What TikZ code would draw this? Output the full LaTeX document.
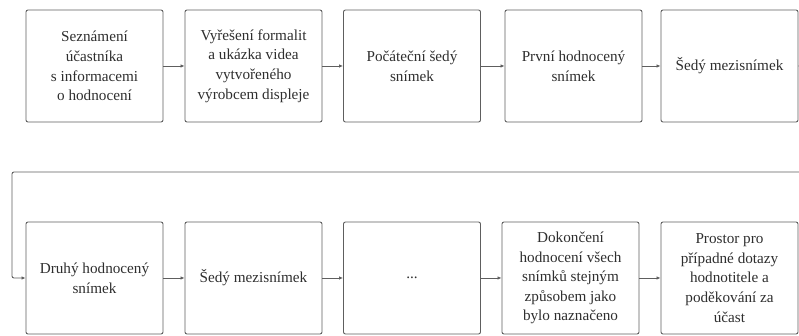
\documentclass[tikz,border=0pt]{standalone}
\usepackage{fontspec}
\setmainfont{Liberation Serif}
\usetikzlibrary{arrows.meta}
\definecolor{linec}{HTML}{5E5E5E}
\definecolor{textc}{HTML}{2E2E2E}
\tikzset{
  box/.style={draw=linec, line width=0.9pt, rounded corners=2pt, minimum width=137pt, minimum height=112pt, align=center, text=textc, font=\fontsize{15.2pt}{19.6pt}\selectfont, inner sep=0pt},
  conn/.style={draw=linec, line width=0.9pt, -{Latex[length=4pt,width=3.5pt]}}
}
\begin{document}
\begin{tikzpicture}[x=1pt,y=1pt]
\useasboundingbox (0,0) rectangle (799,336);
\node[box] (b1) at (94.5,270) {Seznámení\\účastníka\\s informacemi\\o hodnocení};
\node[box] (b2) at (253.5,270) {Vyřešení formalit\\a ukázka videa\\vytvořeného\\výrobcem displeje};
\node[box] (b3) at (412,270) {Počáteční šedý\\snímek};
\node[box] (b4) at (573.5,270) {První hodnocený\\snímek};
\node[box] (b5) at (729.5,270) {Šedý mezisnímek};
\node[box] (b6) at (94.5,58) {Druhý hodnocený\\snímek};
\node[box] (b7) at (253.5,58) {Šedý mezisnímek};
\node[box] (b8) at (412,58) {...};
\node[box] (b9) at (570.5,58) {Dokončení\\hodnocení všech\\snímků stejným\\způsobem jako\\bylo naznačeno};
\node[box] (b10) at (729.5,58) {Prostor pro\\případné dotazy\\hodnotitele a\\poděkování za\\účast};
\coordinate (l1) at (806,270);
\coordinate (l2) at (806,164);
\coordinate (l3) at (12,164);
\coordinate (l4) at (12,58);
\draw[conn] (b1) -- (b2);
\draw[conn] (b2) -- (b3);
\draw[conn] (b3) -- (b4);
\draw[conn] (b4) -- (b5);
\draw[conn, rounded corners=2pt] (b5.east) -- (l1) -- (l2) -- (l3) -- (l4) -- (b6.west);
\draw[conn] (b6) -- (b7);
\draw[conn] (b7) -- (b8);
\draw[conn] (b8) -- (b9);
\draw[conn] (b9) -- (b10);
\end{tikzpicture}
\end{document}
